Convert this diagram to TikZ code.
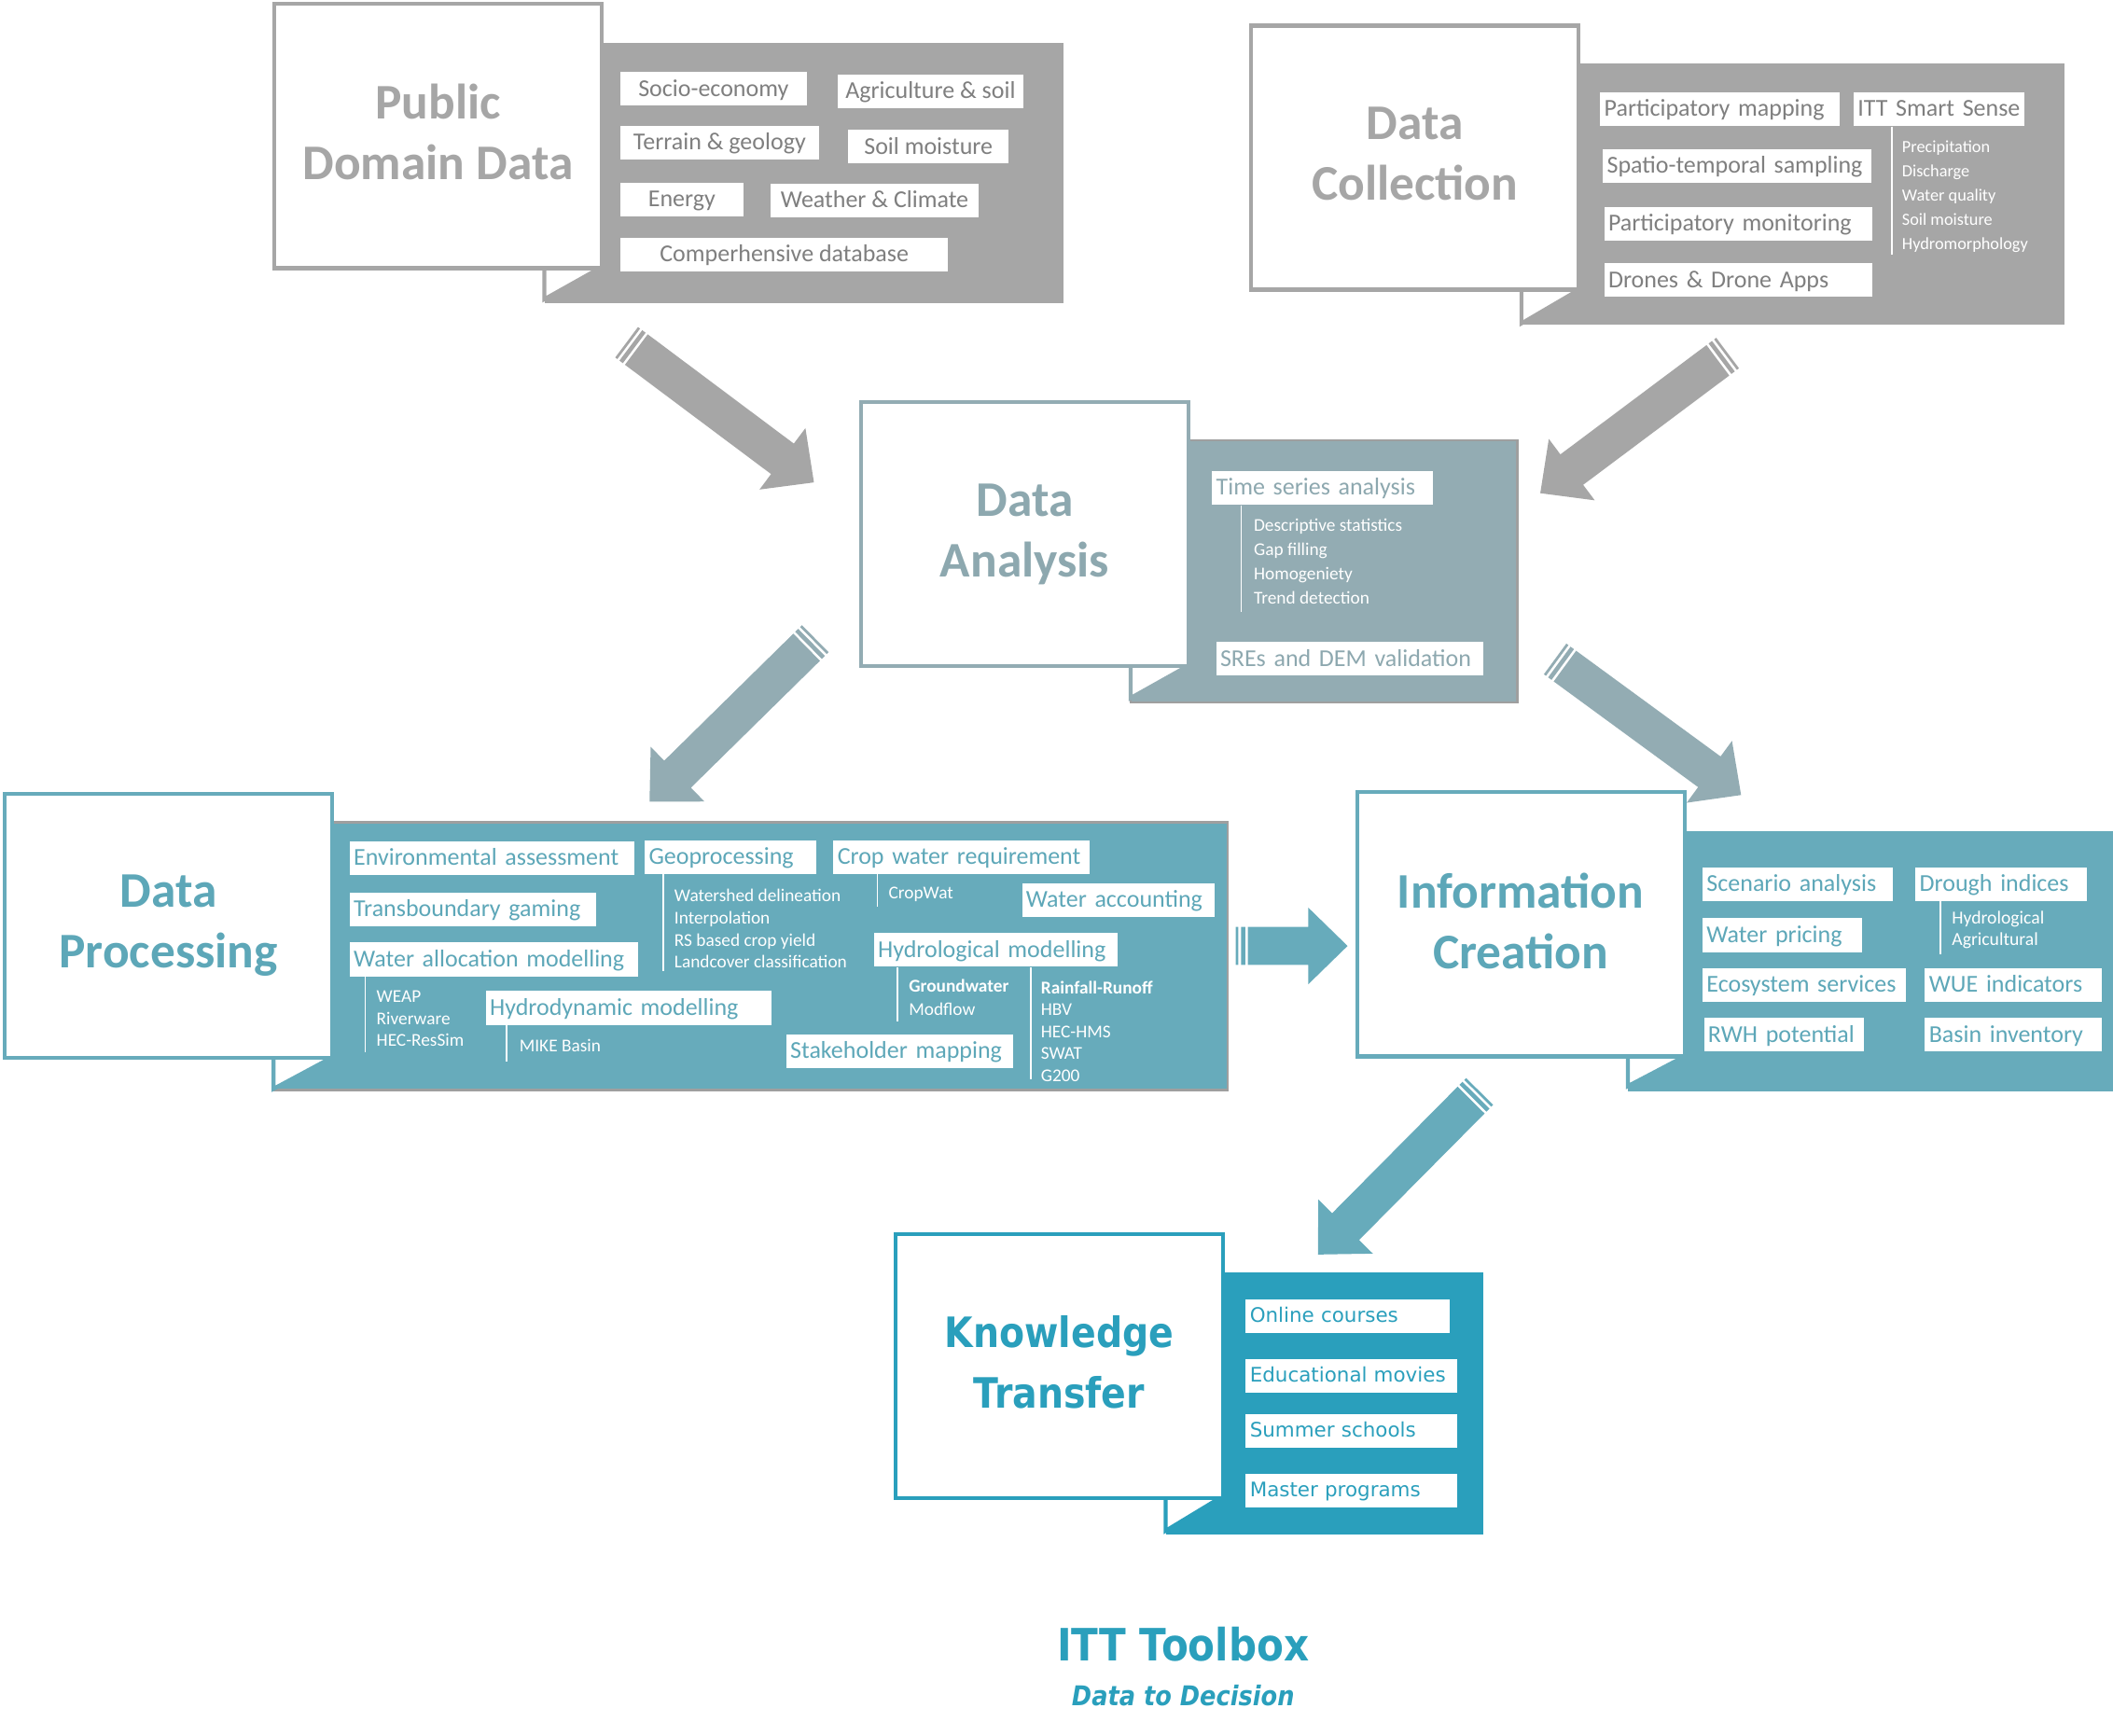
\documentclass[tikz,border=0pt]{standalone}
\usepackage{fontspec}
\setmainfont{Carlito}
\newfontfamily\verd{DejaVu Sans}
\newfontfamily\verdn{DejaVu Sans}[FakeStretch=0.88]
\usetikzlibrary{calc}

\definecolor{pgrey}{HTML}{A6A6A6}
\definecolor{pgreytxt}{HTML}{7F7F7F}
\definecolor{abg}{HTML}{93ACB3}
\definecolor{atext}{HTML}{8DA8AF}
\definecolor{pteal}{HTML}{67ABBB}
\definecolor{ptext}{HTML}{5DA7B8}
\definecolor{kteal}{HTML}{2A9FBC}
\definecolor{pborder}{HTML}{9F9F9F}

\newcommand{\px}{0.014445cm}
\newcommand{\cardfont}{\fontsize{15.2}{18.5}\selectfont\bfseries}
\newcommand{\itemfont}{\fontsize{7.4}{9}\selectfont}
\newcommand{\subfont}{\fontsize{5.5}{7.4}\selectfont}
\newcommand{\kfont}{\verd\fontsize{6.1}{7.5}\selectfont}

% striped block arrow from tail coordinate #2 to tip coordinate #3
\newcommand{\fatarrow}[3]{%
  \fill[#1] let \p1=($(#3)-(#2)$), \n1={atan2(\y1,\x1)} in
    ($(#2)+(\n1+90:5.8pt)$) -- ($(#2)+(\n1:0.8pt)+(\n1+90:5.8pt)$)
      -- ($(#2)+(\n1:0.8pt)+(\n1-90:5.8pt)$) -- ($(#2)+(\n1-90:5.8pt)$) -- cycle
    ($(#2)+(\n1:1.6pt)+(\n1+90:5.8pt)$) -- ($(#2)+(\n1:2.9pt)+(\n1+90:5.8pt)$)
      -- ($(#2)+(\n1:2.9pt)+(\n1-90:5.8pt)$) -- ($(#2)+(\n1:1.6pt)+(\n1-90:5.8pt)$) -- cycle
    ($(#2)+(\n1:3.7pt)+(\n1+90:5.8pt)$) -- ($(#3)+(\n1+180:12pt)+(\n1+90:5.8pt)$)
      -- ($(#3)+(\n1+180:12pt)+(\n1+90:11.7pt)$) -- (#3)
      -- ($(#3)+(\n1+180:12pt)+(\n1-90:11.7pt)$) -- ($(#3)+(\n1+180:12pt)+(\n1-90:5.8pt)$)
      -- ($(#2)+(\n1:3.7pt)+(\n1-90:5.8pt)$) -- cycle;}

\tikzset{
  card/.style={draw=#1, fill=white, line width=1.2pt, minimum width=243*\px,
    minimum height=196*\px, align=center, inner sep=0pt, font=\cardfont,
    execute at begin node={\vphantom{l}}, execute at end node={\vphantom{y}}},
  box/.style={fill=white, anchor=north west, inner ysep=0pt, minimum height=25*\px,
    text height=5.8pt, text depth=1.4pt, font=\itemfont},
  cbox/.style={box, inner xsep=0pt, minimum width=#1*\px},
  lbox/.style={box, inner xsep=3*\px, text width=#1*\px-6*\px, align=left,
    execute at begin node={\hbox\bgroup}, execute at end node={\egroup}},
  kbox/.style={lbox=#1, font=\kfont, text height=5pt, text depth=1.2pt},
  sublist/.style={anchor=north west, inner sep=0pt, align=left, text=white, font=\subfont},
  subline/.style={white, line width=0.5pt},
  tail/.style={draw=#1, line width=1.2pt}
}

\begin{document}
\begin{tikzpicture}[x=\px,y=-\px]
  \useasboundingbox (0,0) rectangle (1568,1288);

  % panels
  \fill[pgrey] (404,32) rectangle (789,225);
  \fill[pgrey] (1129,47) rectangle (1532,241);
  \filldraw[fill=abg, draw=pborder, line width=0.6pt] (839,327) rectangle (1126,521);
  \filldraw[fill=pteal, draw=pborder, line width=0.8pt] (203,610) rectangle (911,809);
  \fill[pteal] (1208,617) rectangle (1568,810);
  \fill[kteal] (865,944) rectangle (1101,1139);

  % tails
  \fill[white] (404,199) -- (404,222) -- (445,199) -- cycle;
  \draw[tail=pgrey] (404,199) -- (404,222) -- (445,199);
  \fill[white] (1129,216) -- (1129,240) -- (1170,216) -- cycle;
  \draw[tail=pgrey] (1129,216) -- (1129,240) -- (1170,216);
  \fill[white] (839,495) -- (839,518) -- (880,495) -- cycle;
  \draw[tail=abg] (839,495) -- (839,518) -- (880,495);
  \fill[white] (203,786) -- (203,808) -- (244,786) -- cycle;
  \draw[tail=pteal] (203,786) -- (203,808) -- (244,786);
  \fill[white] (1208,785) -- (1208,806) -- (1248,785) -- cycle;
  \draw[tail=pteal] (1208,785) -- (1208,806) -- (1248,785);
  \fill[white] (865,1113) -- (865,1136) -- (903,1113) -- cycle;
  \draw[tail=kteal] (865,1113) -- (865,1136) -- (903,1113);

  % cards
  \node[card=pgrey, text=pgrey] (pdd) at (325,101) {Public\\Domain Data};
  \node[card=pgrey, text=pgrey] (dc) at (1050,117) {Data\\Collection};
  \node[card=abg, text=atext] (da) at (760.5,396.5) {Data\\Analysis};
  \node[card=pteal, text=ptext] (dp) at (125,687) {Data\\Processing};
  \node[card=pteal, text=ptext] (ic) at (1128.5,686) {Information\\Creation};
  \node[card=kteal, text=kteal, font=\verdn\bfseries\fontsize{12.75}{18.5}\selectfont]
    (kt) at (786,1014) {Knowledge\\Transfer};

  % public domain data
  \node[cbox=138, text=pgreytxt] (pdd-a) at (460,53) {Socio-economy};
  \node[cbox=138, text=pgreytxt] (pdd-b) at (621,55) {Agriculture \& soil};
  \node[cbox=147, text=pgreytxt] (pdd-c) at (460,93) {Terrain \& geology};
  \node[cbox=119, text=pgreytxt] (pdd-d) at (629,96) {Soil moisture};
  \node[cbox=91, text=pgreytxt] (pdd-e) at (460,135) {Energy};
  \node[cbox=155, text=pgreytxt] (pdd-f) at (571,136) {Weather \& Climate};
  \node[cbox=243, text=pgreytxt] (pdd-g) at (460,176) {Comperhensive database};

  % data collection
  \node[lbox=178, text=pgreytxt] (dc-a) at (1187,68) {Participatory mapping};
  \node[lbox=127, text=pgreytxt] (dc-b) at (1375,68) {ITT Smart Sense};
  \node[lbox=199, text=pgreytxt] (dc-c) at (1189,110) {Spatio-temporal sampling};
  \node[lbox=199, text=pgreytxt] (dc-d) at (1190,153) {Participatory monitoring};
  \node[lbox=199, text=pgreytxt] (dc-e) at (1190,195) {Drones \& Drone Apps};
  \node[sublist, font=\fontsize{5.2}{7.4}\selectfont] (dc-s) at (1411,104)
    {Precipitation\\Discharge\\Water quality\\Soil moisture\\Hydromorphology};
  \draw[subline] ($(dc-b.south west)+(29,0)$) -- ++(0,95);

  % data analysis
  \node[lbox=164, text=atext] (da-a) at (899,349) {Time series analysis};
  \node[sublist] (da-s) at (930,384.5)
    {Descriptive statistics\\Gap filling\\Homogeniety\\Trend detection};
  \draw[subline] ($(da-a.south west)+(22,0)$) -- ++(0,79);
  \node[lbox=198, text=atext] (da-b) at (902,476) {SREs and DEM validation};

  % data processing
  \node[lbox=211, text=ptext] (dp-a) at (259,624) {Environmental assessment};
  \node[lbox=183, text=ptext] (dp-b) at (259,662) {Transboundary gaming};
  \node[lbox=214, text=ptext] (dp-c) at (259,699) {Water allocation modelling};
  \node[sublist, font=\fontsize{5.5}{6.6}\selectfont] (dp-cs) at (279,735)
    {WEAP\\Riverware\\HEC-ResSim};
  \draw[subline] ($(dp-c.south west)+(12,0)$) -- ++(0,56);
  \node[lbox=212, text=ptext] (dp-d) at (360,735) {Hydrodynamic modelling};
  \node[sublist] (dp-ds) at (385,770.5) {MIKE Basin};
  \draw[subline] ($(dp-d.south west)+(16,0)$) -- ++(0,27);
  \node[lbox=127, text=ptext] (dp-e) at (478,623) {Geoprocessing};
  \node[sublist, font=\fontsize{5.5}{6.75}\selectfont] (dp-es) at (500,659.5)
    {Watershed delineation\\Interpolation\\RS based crop yield\\Landcover classification};
  \draw[subline] ($(dp-e.south west)+(14,0)$) -- ++(0,72);
  \node[lbox=190, text=ptext] (dp-f) at (618,623) {Crop water requirement};
  \node[sublist] (dp-fs) at (659,658) {CropWat};
  \draw[subline] ($(dp-f.south west)+(33,0)$) -- ++(0,24);
  \node[lbox=143, text=ptext] (dp-g) at (758,655) {Water accounting};
  \node[lbox=181, text=ptext] (dp-h) at (648,692) {Hydrological modelling};
  \node[sublist, font=\fontsize{5.5}{7}\selectfont] (dp-hs) at (674,726.5)
    {\textbf{Groundwater}\\Modflow};
  \draw[subline] ($(dp-h.south west)+(18,0)$) -- ++(0,40);
  \node[sublist, font=\fontsize{5.5}{6.7}\selectfont] (dp-ht) at (772,727.5)
    {\textbf{Rainfall-Runoff}\\HBV\\HEC-HMS\\SWAT\\G200};
  \draw[subline] ($(dp-h.south west)+(117,0)$) -- ++(0,83);
  \node[lbox=168, text=ptext] (dp-i) at (583,767) {Stakeholder mapping};

  % information creation
  \node[lbox=141, text=ptext] (ic-a) at (1263,643) {Scenario analysis};
  \node[lbox=127, text=ptext] (ic-b) at (1421,643) {Drough indices};
  \node[sublist, font=\fontsize{5.6}{6.6}\selectfont] (ic-bs) at (1448,675.5)
    {Hydrological\\Agricultural};
  \draw[subline] ($(ic-b.south west)+(19,0)$) -- ++(0,39);
  \node[lbox=118, text=ptext] (ic-c) at (1263,681) {Water pricing};
  \node[lbox=151, text=ptext] (ic-d) at (1263,718) {Ecosystem services};
  \node[lbox=131, text=ptext] (ic-e) at (1428,718) {WUE indicators};
  \node[lbox=119, text=ptext] (ic-f) at (1264,755) {RWH potential};
  \node[lbox=131, text=ptext] (ic-g) at (1428,755) {Basin inventory};

  % knowledge transfer
  \node[kbox=151, text=kteal] (kt-a) at (924,964) {Online courses};
  \node[kbox=157, text=kteal] (kt-b) at (924,1008) {Educational movies};
  \node[kbox=157, text=kteal] (kt-c) at (924,1049) {Summer schools};
  \node[kbox=157, text=kteal] (kt-d) at (924,1093) {Master programs};

  % arrows
  \coordinate (a1s) at (465,254);  \coordinate (a1e) at (604,358);
  \coordinate (a2s) at (1282,262); \coordinate (a2e) at (1143,366);
  \coordinate (a3s) at (605,474);  \coordinate (a3e) at (482,595);
  \coordinate (a4s) at (1154,489); \coordinate (a4e) at (1292,590);
  \coordinate (a5s) at (917,702);  \coordinate (a5e) at (1000,702);
  \coordinate (a6s) at (1098,810); \coordinate (a6e) at (978,931);
  \fatarrow{pgrey}{a1s}{a1e}
  \fatarrow{pgrey}{a2s}{a2e}
  \fatarrow{abg}{a3s}{a3e}
  \fatarrow{abg}{a4s}{a4e}
  \fatarrow{pteal}{a5s}{a5e}
  \fatarrow{pteal}{a6s}{a6e}

  % title
  \node[text=kteal, font=\verdn\bfseries\fontsize{13.6}{16}\selectfont] (itt) at (878,1220) {ITT Toolbox};
  \node[text=kteal, font=\verdn\bfseries\itshape\fontsize{8.3}{10}\selectfont] (d2d) at (878,1258) {Data to Decision};
\end{tikzpicture}
\end{document}
